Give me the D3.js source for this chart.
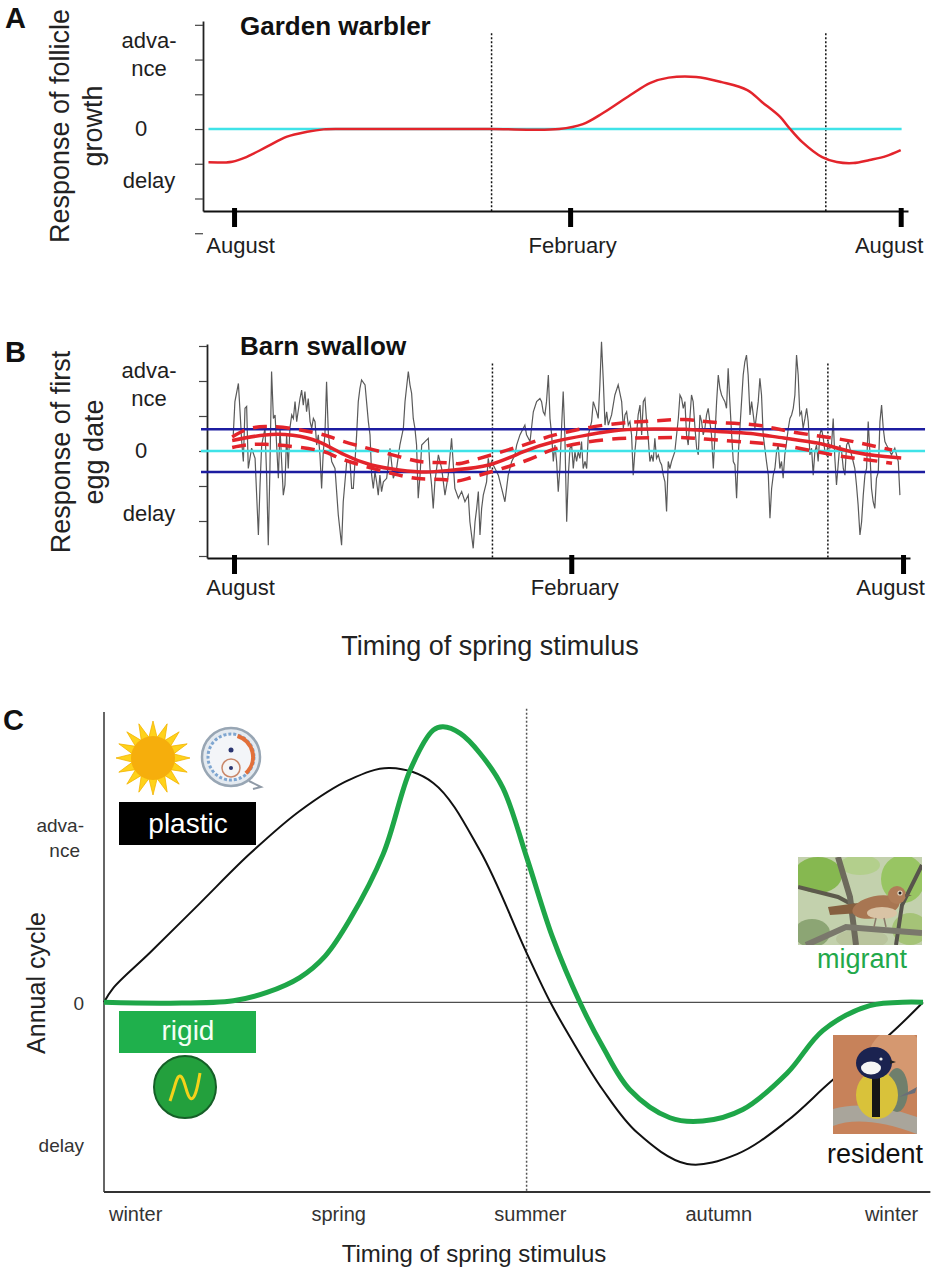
<!DOCTYPE html>
<html>
<head>
<meta charset="utf-8">
<script src="https://cdn.jsdelivr.net/npm/d3@7"></script>
<style>
  body { margin: 0; background: #fff; }
  svg { display: block; font-family: Arial, "Liberation Sans", Helvetica, sans-serif; }
</style>
</head>
<body>
<svg id="canvas"></svg>
<script>
// ---- data (x: days since 1 August, y: response, 10 = one axis tick) ----
const monthTicks = [0, 184, 365];
const monthLabels = ['August', 'February', 'August'];
const respTicks = [-30, -20, -10, 0, 10, 20, 30];
const respLabels = ['adva-|nce', '0', 'delay'];
const warblerLabelAt = [19.6, 0, -15];
const swallowLabelAt = [17, 0, -18];
const stimulusLines = [141, 324];

const warblerCurve = [
  [-14, -9.6], [-1, -9.4], [7, -8.0], [18, -5.1], [29, -2.2], [40, -0.8], [49, -0.1], [60, 0],
  [100, 0], [140, 0], [178, 0], [191, 1.4], [202, 4.6], [217, 9.8], [228, 13.3], [238, 14.8],
  [253, 15.0], [267, 13.5], [281, 11.2], [289, 7.8], [299, 3.5], [304, 0.3], [311, -3.7],
  [322, -8.1], [330, -9.5], [339, -9.8], [348, -8.9], [357, -7.8], [365, -6.1]
];
const warblerZeroSpan = [-14, 365.5];

const swallowRaw = [
  [-0.4, 4.6], [0.5, 14.1], [2.4, 19.3], [3.3, 11.2], [4.2, 2.7], [5.1, -3.0], [6.0, 12.2], [6.9, 12.7],
  [7.8, -5.0], [9.6, 0.8], [11.5, -2.1], [13.3, -24.0], [14.2, -9.7], [15.1, 1.7], [16.9, 6.5], [17.8, -6.9],
  [18.7, -26.9], [19.6, -5.0], [20.5, 22.7], [21.5, 9.3], [22.4, 10.3], [24.2, -7.8], [25.1, 6.5], [26.0, -3.0],
  [26.9, -12.6], [27.8, -9.7], [28.7, 4.6], [29.6, -5.0], [30.5, 6.5], [31.5, 10.3], [32.4, 9.3], [33.3, 14.1],
  [34.2, 8.4], [36.0, 15.0], [36.9, 17.4], [37.8, 13.1], [38.7, 17.0], [39.6, 11.2], [40.5, 15.0], [41.5, 8.4],
  [42.4, 6.5], [43.3, 9.3], [44.2, 8.4], [45.1, 1.7], [46.0, 4.6], [46.9, -1.1], [47.8, -10.7], [48.7, -0.2],
  [49.6, 4.6], [50.5, 19.8], [51.5, 4.6], [53.3, -3.0], [55.1, -5.0], [56.9, -18.3], [58.7, -26.9], [59.6, -14.5],
  [61.5, -3.0], [63.3, -3.0], [64.2, -10.7], [65.1, -10.7], [66.9, 4.6], [67.8, 14.1], [68.7, 17.9], [69.6, 20.3],
  [71.5, 18.9], [73.3, 8.4], [74.2, 4.6], [75.1, -6.9], [76.0, -10.7], [76.9, -5.9], [77.8, -8.8], [78.7, -12.6],
  [79.6, -6.9], [80.5, -11.6], [81.5, -8.8], [83.3, -7.8], [85.1, 0.8], [86.9, -7.8], [88.7, -5.0], [90.5, 1.7],
  [92.4, 6.5], [93.3, 14.1], [95.1, 22.7], [96.0, 18.9], [96.9, 16.5], [97.8, 9.3], [98.7, 6.5], [99.6, 1.7],
  [100.5, -13.5], [101.5, -6.9], [102.4, 1.7], [104.2, 2.7], [106.0, 3.6], [106.9, -5.0], [107.8, -9.7], [108.7, -16.4],
  [109.6, -8.8], [111.5, -1.1], [113.3, -5.0], [115.1, -12.6], [116.9, -6.9], [118.7, 3.6], [120.5, -10.7], [122.4, -13.5],
  [124.2, -11.6], [126.0, -14.5], [127.8, -12.6], [128.7, -20.2], [130.5, -27.8], [131.5, -20.2], [132.4, -16.4], [133.3, -11.6],
  [134.2, -24.0], [135.1, -16.4], [136.0, -12.6], [137.8, -8.8], [138.7, -2.1], [139.6, -5.0], [140.5, -3.0], [142.4, -5.0],
  [144.2, -6.9], [146.0, -10.7], [147.8, -14.5], [149.6, -6.9], [151.5, -3.0], [153.3, -1.1], [154.2, 1.7], [156.0, 4.6],
  [157.8, 6.5], [158.7, 7.4], [159.6, 4.6], [161.5, 2.7], [163.3, 11.2], [165.1, 14.1], [166.9, 15.0], [167.8, 14.1],
  [168.7, 11.2], [169.6, 10.3], [170.5, 14.1], [171.5, 21.7], [172.4, 9.3], [173.3, 4.6], [174.2, -3.0], [175.1, 1.7],
  [176.0, -3.0], [176.9, -11.6], [177.8, -5.0], [178.7, 6.5], [179.6, 17.0], [180.5, 4.6], [181.5, -20.2], [182.4, -6.9],
  [183.3, 0.8], [184.2, 1.7], [185.1, -5.0], [186.0, -0.2], [186.9, -3.0], [187.8, -0.2], [188.7, -2.1], [189.6, 2.7],
  [190.5, -5.0], [191.5, -3.0], [192.4, -5.0], [193.3, 4.6], [195.1, 8.4], [196.0, 14.1], [197.8, 11.2], [198.7, 9.3],
  [199.6, 18.9], [200.5, 31.2], [201.5, 19.8], [202.4, 7.4], [203.3, 11.2], [204.2, 7.4], [206.0, 10.3], [207.8, 16.0],
  [209.6, 18.9], [211.5, 14.1], [212.4, 6.5], [213.3, 10.3], [214.2, 11.2], [215.1, 7.4], [216.0, 8.4], [216.9, 4.6],
  [217.8, -6.9], [218.7, -0.2], [219.6, 4.6], [220.5, 10.3], [221.5, 13.1], [222.4, 4.6], [223.3, 14.1], [224.2, 15.0],
  [225.1, 8.4], [226.0, 3.6], [226.9, -3.0], [227.8, -1.1], [228.7, -3.0], [229.6, 3.6], [230.5, -2.1], [231.5, -1.1],
  [232.4, -3.0], [233.3, -4.0], [234.2, -6.9], [235.1, -8.8], [236.0, -17.3], [236.9, -3.0], [237.8, -5.0], [238.7, -3.0],
  [240.5, -0.2], [242.4, 9.3], [243.3, 16.0], [244.2, 15.0], [245.1, 12.2], [246.0, 14.1], [246.9, 4.6], [247.8, 1.7],
  [248.7, 9.3], [249.6, 16.0], [250.5, 14.1], [251.5, 6.5], [252.4, 0.8], [253.3, -1.1], [254.2, 10.3], [255.1, 8.4],
  [256.0, 4.6], [256.9, 6.5], [257.8, 10.3], [258.7, 12.2], [259.6, 8.4], [260.5, 4.6], [261.5, -5.0], [262.4, 4.6],
  [263.3, 14.1], [264.2, 21.7], [265.1, 17.9], [266.0, 16.0], [266.9, 15.0], [267.8, 14.1], [268.7, 12.2], [269.6, 23.6],
  [270.5, 14.1], [271.5, 4.6], [272.4, -3.0], [273.3, -4.0], [274.2, -13.5], [275.1, -1.1], [276.0, 6.5], [276.9, 14.1],
  [277.8, 21.7], [278.7, 25.5], [279.6, 27.4], [280.5, 21.7], [281.5, 10.3], [282.4, 14.1], [283.3, 10.3], [284.2, 6.5],
  [286.0, 14.1], [286.9, 20.8], [287.8, 16.0], [288.7, 4.6], [289.6, 0.8], [290.5, -3.0], [291.5, -6.9], [292.4, -19.2],
  [293.3, -10.7], [294.2, -6.9], [295.1, -5.0], [296.0, -0.2], [296.9, 1.7], [297.8, -5.0], [298.7, -3.0], [299.6, -7.8],
  [300.5, -1.1], [301.5, 2.7], [302.4, 6.5], [303.3, 9.3], [304.2, 10.3], [305.1, 12.2], [306.0, 16.0], [306.9, 27.4],
  [307.8, 21.7], [308.7, 10.3], [309.6, 11.2], [310.5, 6.5], [311.5, 9.3], [312.4, 12.2], [313.3, 8.4], [314.2, -1.1],
  [315.1, 0.8], [316.0, -6.9], [316.9, -0.2], [317.8, 1.7], [318.7, -3.0], [319.6, 4.6], [320.5, 6.5], [321.5, 3.6],
  [322.4, -0.2], [323.3, -1.1], [324.2, 2.7], [325.1, 0.8], [326.0, 1.7], [326.9, 9.3], [327.8, -2.1], [328.7, -9.7],
  [329.6, -4.0], [330.5, 1.7], [331.5, -0.2], [332.4, -5.0], [333.3, -6.9], [334.2, 1.7], [335.1, 2.7], [336.0, 0.8],
  [336.9, -1.1], [337.8, -3.0], [338.7, -5.0], [339.6, -9.7], [340.5, -15.4], [341.5, -24.0], [342.4, -20.2], [343.3, -12.6],
  [344.2, -6.9], [345.1, -5.0], [346.0, 8.4], [346.9, -0.2], [347.8, -10.7], [348.7, -14.5], [349.6, -16.4], [350.5, -7.8],
  [351.5, -6.0], [352.4, 8.4], [353.3, 13.1], [354.2, 6.5], [355.1, 2.7], [356.0, 1.7], [356.9, 0.8], [358.7, -1.1],
  [360.5, 0.8], [362.4, -3.0], [363.3, -12.6]
];
const swallowFit = [
  [-1, 3.0], [17, 4.6], [32, 4.5], [46, 2.7], [60, -1.0], [75, -4.0], [90, -5.4], [105, -6.0], [120, -5.4],
  [139, -4.0], [158, -0.2], [175, 2.7], [193, 4.6], [211, 6.0], [230, 6.3], [246, 6.2], [264, 5.6], [282, 5.0],
  [300, 3.7], [319, 2.2], [337, -0.2], [355, -1.6], [364, -2.0]
];
const swallowUpper = [
  [-1, 4.0], [17, 7.0], [46, 5.0], [60, 2.7], [90, -1.6], [105, -3.2], [120, -3.5], [128, -3.0], [158, 1.7],
  [175, 4.6], [202, 7.4], [229, 8.6], [246, 9.0], [257, 8.4], [273, 7.9], [288, 7.2], [304, 5.5], [328, 3.6],
  [344, 2.0], [359, 0.3]
];
const swallowLower = [
  [-1, 1.0], [17, 1.9], [46, 0.2], [60, -2.5], [90, -6.9], [105, -8.0], [120, -8.4], [128, -7.8], [158, -3.0],
  [175, 0.6], [202, 3.2], [229, 3.8], [246, 3.8], [257, 3.4], [273, 2.8], [288, 2.2], [304, 1.2], [328, -1.2],
  [344, -2.4], [359, -3.5]
];
const swallowBand = [6.2, -6.0];
const swallowRefSpan = [-18, 377];

// panel C (x: % of annual cycle from winter, y: phase response, 1 = "advance")
const seasons = ['winter', 'spring', 'summer', 'autumn', 'winter'];
const seasonAt = [3.8, 28.6, 52.0, 75.0, 96.1];
const cycleLabels = ['adva-|nce', '0', 'delay'];
const cycleLabelAt = [1, 0, -0.87];
const summerLine = 51.6;
const plasticCurve = [
  [0, 0], [1.1, 0.085], [5.6, 0.30], [11.7, 0.60], [17.8, 0.90], [23.9, 1.16], [30.0, 1.35], [34.9, 1.42],
  [40.2, 1.33], [45.9, 0.92], [51.6, 0.30], [54.5, 0], [56.9, -0.21], [60.9, -0.53], [65.1, -0.79],
  [71.2, -0.98], [77.3, -0.92], [83.4, -0.72], [89.0, -0.47], [95.6, -0.21], [100, 0]
];
const rigidCurve = [
  [0, 0], [8.1, -0.005], [15.8, 0.01], [19.9, 0.06], [23.9, 0.15], [27.0, 0.28], [30.0, 0.50], [34.1, 0.90],
  [37.4, 1.41], [40.2, 1.65], [41.4, 1.67], [43.5, 1.63], [45.9, 1.51], [48.7, 1.30], [51.6, 0.88], [54.8, 0.39],
  [58.1, 0], [60.9, -0.27], [64.2, -0.53], [69.1, -0.70], [73.1, -0.72], [78.0, -0.65], [83.4, -0.43],
  [87.8, -0.17], [93.5, -0.02], [100, 0]
];

// ---- setup ----
let canvas = d3.select('#canvas').attr('width', 950).attr('height', 1277);
const ink = '#1e1e1e';

let xA = d3.scaleLinear().domain([-17, 369]).range([203, 908]);
let yA = d3.scaleLinear().domain([-23.6, 31.1]).range([211, 21]);
let xB = d3.scaleLinear().domain([-14.73, 368.8]).range([207, 910]);
let yB = d3.scaleLinear().domain([-30.57, 30.57]).range([558, 344]);
let xC = d3.scaleLinear().domain([0, 100]).range([104, 923]);
let yC = d3.scaleLinear().domain([-1.15, 1.76]).range([1192, 712]);

let lineOf = (x, y, curve) => d3.line().x((d) => x(d[0])).y((d) => y(d[1])).curve(curve);

let panelLetter = (t, x, y) => {
  canvas.append('text').attr('x', x).attr('y', y).text(t)
    .attr('font-size', 29).attr('font-weight', 'bold').attr('fill', '#111');
};

let drawAxes = (x, y, labelAt, labelNudge) => {
  let yAxisX = x.range()[0];
  let xAxisY = y.range()[0];

  canvas.append('g')
    .attr('transform', `translate(${yAxisX},0)`)
    .call(d3.axisLeft(y).tickValues(respTicks).tickSize(8).tickSizeOuter(0).tickFormat(''))
    .call((g) => g.selectAll('.tick line').attr('stroke', '#444').attr('stroke-width', 1.2))
    .call((g) => g.select('.domain').attr('stroke', '#222').attr('stroke-width', 1.8));

  let gx = canvas.append('g')
    .attr('transform', `translate(0,${xAxisY})`)
    .call(d3.axisBottom(x).tickValues(monthTicks).tickSize(16).tickSizeOuter(0)
      .tickFormat((d, i) => monthLabels[i]));
  gx.select('.domain').attr('stroke', '#111').attr('stroke-width', 2);
  gx.selectAll('.tick line').attr('stroke', '#000').attr('stroke-width', 5).attr('y1', -3);
  gx.selectAll('.tick text')
    .attr('y', labelNudge.y).attr('dy', 0)
    .attr('dx', (d, i) => labelNudge.dx[i])
    .attr('font-size', 22).attr('font-family', 'Arial, "Liberation Sans", sans-serif').attr('fill', ink);

  respLabels.forEach((lab, i) => {
    let yy = y(labelAt[i]);
    let t = canvas.append('text').attr('text-anchor', 'middle').attr('font-size', 22).attr('fill', ink);
    if (lab.includes('|')) {
      let parts = lab.split('|');
      t.append('tspan').attr('x', 149).attr('y', yy - 13).text(parts[0]);
      t.append('tspan').attr('x', 149).attr('y', yy + 15).text(parts[1]);
    } else {
      t.attr('x', lab === '0' ? 141 : 149).attr('y', yy).attr('dy', '0.3em').text(lab);
    }
  });

  stimulusLines.forEach((d) => {
    canvas.append('line')
      .attr('x1', x(d)).attr('x2', x(d))
      .attr('y1', y(labelAt[0] + 8)).attr('y2', xAxisY)
      .attr('stroke', '#111').attr('stroke-width', 1.5).attr('stroke-dasharray', '2,2');
  });
};

let yTitle = (lines, x, cy, size) => {
  let g = canvas.append('g').attr('transform', `translate(${x},${cy}) rotate(-90)`);
  lines.forEach((l, i) => {
    g.append('text').attr('x', 0).attr('y', i * 33).attr('text-anchor', 'middle')
      .attr('font-size', size).attr('fill', '#222').text(l);
  });
};

// ---- panel A: garden warbler ----
panelLetter('A', 5, 28);
drawAxes(xA, yA, warblerLabelAt, { y: 42, dx: [6, 2, -12] });
yTitle(['Response of follicle', 'growth'], 69, 126, 27);
canvas.append('text').attr('x', 240).attr('y', 35).text('Garden warbler')
  .attr('font-size', 26).attr('font-weight', 'bold').attr('fill', '#111');

canvas.append('line')
  .attr('x1', xA(warblerZeroSpan[0])).attr('x2', xA(warblerZeroSpan[1]))
  .attr('y1', yA(0)).attr('y2', yA(0))
  .attr('stroke', '#3fe3e8').attr('stroke-width', 2.5);

canvas.append('path').datum(warblerCurve)
  .attr('d', lineOf(xA, yA, d3.curveCatmullRom.alpha(0.5)))
  .attr('fill', 'none').attr('stroke', '#e3242b').attr('stroke-width', 2.5);

// ---- panel B: barn swallow ----
panelLetter('B', 5, 362);
drawAxes(xB, yB, swallowLabelAt, { y: 37, dx: [6, 3, -13] });
yTitle(['Response of first', 'egg date'], 70, 452, 27);
canvas.append('text').attr('x', 240).attr('y', 355).text('Barn swallow')
  .attr('font-size', 26).attr('font-weight', 'bold').attr('fill', '#111');

canvas.append('path').datum(swallowRaw)
  .attr('d', lineOf(xB, yB, d3.curveLinear))
  .attr('fill', 'none').attr('stroke', '#5a5a5a').attr('stroke-width', 1.2);

canvas.append('line')
  .attr('x1', xB(swallowRefSpan[0])).attr('x2', xB(swallowRefSpan[1]))
  .attr('y1', yB(0)).attr('y2', yB(0))
  .attr('stroke', '#3fe3e8').attr('stroke-width', 2.5);

canvas.selectAll('.band').data(swallowBand).enter().append('line')
  .attr('class', 'band')
  .attr('x1', xB(swallowRefSpan[0])).attr('x2', xB(swallowRefSpan[1]))
  .attr('y1', (d) => yB(d)).attr('y2', (d) => yB(d))
  .attr('stroke', '#1c1ca0').attr('stroke-width', 2.5);

[swallowUpper, swallowLower].forEach((s) => {
  canvas.append('path').datum(s)
    .attr('d', lineOf(xB, yB, d3.curveNatural))
    .attr('fill', 'none').attr('stroke', '#e3242b').attr('stroke-width', 3.5)
    .attr('stroke-dasharray', '14,9');
});
canvas.append('path').datum(swallowFit)
  .attr('d', lineOf(xB, yB, d3.curveNatural))
  .attr('fill', 'none').attr('stroke', '#e3242b').attr('stroke-width', 3.5);

canvas.append('text').attr('x', 490).attr('y', 655).attr('text-anchor', 'middle')
  .attr('font-size', 27).attr('fill', '#222').text('Timing of spring stimulus');

// ---- panel C: annual cycle ----
panelLetter('C', 3, 730);
canvas.append('line').attr('x1', xC(0)).attr('x2', xC(0)).attr('y1', yC(1.76)).attr('y2', yC(-1.15))
  .attr('stroke', '#666').attr('stroke-width', 2);
canvas.append('line').attr('x1', xC(0)).attr('x2', xC(100.9)).attr('y1', yC(-1.15)).attr('y2', yC(-1.15))
  .attr('stroke', '#333').attr('stroke-width', 2);
canvas.append('line').attr('x1', xC(0)).attr('x2', xC(100)).attr('y1', yC(0)).attr('y2', yC(0))
  .attr('stroke', '#222').attr('stroke-width', 1);
canvas.append('line').attr('x1', xC(summerLine)).attr('x2', xC(summerLine))
  .attr('y1', yC(1.78)).attr('y2', yC(-1.15))
  .attr('stroke', '#555').attr('stroke-width', 1.5).attr('stroke-dasharray', '2,2');

canvas.append('g')
  .attr('transform', `translate(0,${yC(-1.15)})`)
  .call(d3.axisBottom(xC).tickValues(seasonAt).tickSize(0).tickFormat((d, i) => seasons[i]))
  .call((g) => g.select('.domain').remove())
  .call((g) => g.selectAll('text').attr('y', 29).attr('dy', 0).attr('font-size', 20)
    .attr('font-family', 'Arial, "Liberation Sans", sans-serif').attr('fill', '#333'));

cycleLabels.forEach((lab, i) => {
  let yy = yC(cycleLabelAt[i]);
  let t = canvas.append('text').attr('text-anchor', 'end').attr('font-size', 19).attr('fill', '#333');
  if (lab.includes('|')) {
    let parts = lab.split('|');
    t.append('tspan').attr('x', 84).attr('y', yy - 5).text(parts[0]);
    t.append('tspan').attr('x', 80).attr('y', yy + 20).text(parts[1]);
  } else {
    t.attr('x', 84).attr('y', yy).attr('dy', lab === '0' ? '0.4em' : '0.35em').text(lab);
  }
});

let gt = canvas.append('g').attr('transform', 'translate(45,983) rotate(-90)');
gt.append('text').attr('text-anchor', 'middle').attr('font-size', 25).attr('fill', '#222').text('Annual cycle');

canvas.append('text').attr('x', 474).attr('y', 1262).attr('text-anchor', 'middle')
  .attr('font-size', 24).attr('fill', '#222').text('Timing of spring stimulus');

canvas.append('path').datum(plasticCurve)
  .attr('d', lineOf(xC, yC, d3.curveCatmullRom.alpha(0.5)))
  .attr('fill', 'none').attr('stroke', '#111').attr('stroke-width', 2);
canvas.append('path').datum(rigidCurve)
  .attr('d', lineOf(xC, yC, d3.curveCatmullRom.alpha(0.5)))
  .attr('fill', 'none').attr('stroke', '#1ea648').attr('stroke-width', 5);

// ---- icons ----
// sun
let sun = canvas.append('g').attr('transform', 'translate(153,758)');
let rays = d3.range(32).map((i) => [i * Math.PI / 16, i % 2 === 0 ? 37 : 21]);
sun.append('path').attr('d', d3.lineRadial().curve(d3.curveLinearClosed)(rays))
  .attr('fill', '#ffd21a').attr('stroke', '#f2b400').attr('stroke-width', 0.8);
sun.append('circle').attr('r', 22).attr('fill', '#f6ae0c');

// hygrometer dial
let dial = canvas.append('g').attr('transform', 'translate(231,757)');
dial.append('circle').attr('r', 29).attr('fill', '#e4eaf0').attr('stroke', '#98a6b4').attr('stroke-width', 2.5);
dial.append('circle').attr('r', 23).attr('fill', '#f3f5f8').attr('stroke', '#7fa6d0').attr('stroke-width', 3)
  .attr('stroke-dasharray', '3,2');
dial.append('path').attr('d', d3.arc().innerRadius(20).outerRadius(24).startAngle(0.3).endAngle(2.4)())
  .attr('fill', '#e2703a');
dial.append('circle').attr('cy', 11).attr('r', 9).attr('fill', '#f5f5f5').attr('stroke', '#c9886a').attr('stroke-width', 1.5);
dial.append('circle').attr('cy', -7).attr('r', 2.5).attr('fill', '#2a3570');
dial.append('circle').attr('cy', 11).attr('r', 2).attr('fill', '#2a3570');
dial.append('path').attr('d', 'M18,24 L30,30 L22,32').attr('fill', 'none').attr('stroke', '#8f9aa6').attr('stroke-width', 2);

// plastic / rigid boxes
canvas.append('rect').attr('x', 119).attr('y', 802).attr('width', 137).attr('height', 43).attr('fill', '#000');
canvas.append('text').attr('x', 188).attr('y', 833).attr('text-anchor', 'middle')
  .attr('font-size', 28).attr('fill', '#fff').text('plastic');
canvas.append('rect').attr('x', 119).attr('y', 1011).attr('width', 137).attr('height', 42).attr('fill', '#1fb04c');
canvas.append('text').attr('x', 188).attr('y', 1040).attr('text-anchor', 'middle')
  .attr('font-size', 28).attr('fill', '#f4fff4').text('rigid');

// green clock with sine
let clock = canvas.append('g').attr('transform', 'translate(185,1087)');
clock.append('circle').attr('r', 31).attr('fill', '#23a03d').attr('stroke', '#155f27').attr('stroke-width', 2);
clock.append('path')
  .attr('d', d3.line().curve(d3.curveBasis)([[-15, 14], [-11, 2], [-7, -13], [-2, -10], [2, 6], [6, 14], [11, 8], [15, -14]]))
  .attr('fill', 'none').attr('stroke', '#f3d21a').attr('stroke-width', 3);

// migrant photo (garden warbler)
let defs = canvas.append('defs');
defs.append('clipPath').attr('id', 'clipM').append('rect').attr('width', 124).attr('height', 88);
defs.append('clipPath').attr('id', 'clipR').append('rect').attr('width', 84).attr('height', 99);

let mig = canvas.append('g').attr('transform', 'translate(798,857)').append('g').attr('clip-path', 'url(#clipM)');
mig.append('rect').attr('width', 124).attr('height', 88).attr('fill', '#c3d1ad');
[[20, 18, 24, 18, '#86b850'], [105, 22, 22, 24, '#98c563'], [62, 8, 20, 10, '#b3cf8c'],
 [112, 72, 18, 16, '#a5c377'], [14, 76, 18, 14, '#8ca574'], [64, 82, 26, 10, '#b9c49d']].forEach((e) => {
  mig.append('ellipse').attr('cx', e[0]).attr('cy', e[1]).attr('rx', e[2]).attr('ry', e[3]).attr('fill', e[4]);
});
mig.append('path').attr('d', 'M0,30 L40,40 L70,56').attr('fill', 'none').attr('stroke', '#5d5a4c').attr('stroke-width', 4);
mig.append('path').attr('d', 'M40,0 L52,40 L58,88').attr('fill', 'none').attr('stroke', '#6d6a5c').attr('stroke-width', 6);
mig.append('path').attr('d', 'M124,8 L104,48 L98,88').attr('fill', 'none').attr('stroke', '#57544c').attr('stroke-width', 4);
mig.append('path').attr('d', 'M8,88 L48,70 L124,76').attr('fill', 'none').attr('stroke', '#7a786c').attr('stroke-width', 6);
mig.append('path').attr('d', 'M30,50 L60,46 L62,56 L32,58 Z').attr('fill', '#86603f');
mig.append('ellipse').attr('cx', 78).attr('cy', 50).attr('rx', 24).attr('ry', 11)
  .attr('transform', 'rotate(-12,78,50)').attr('fill', '#a87652');
mig.append('ellipse').attr('cx', 84).attr('cy', 56).attr('rx', 15).attr('ry', 6).attr('fill', '#d9c3a5');
mig.append('circle').attr('cx', 99).attr('cy', 38).attr('r', 9).attr('fill', '#b07d58');
mig.append('circle').attr('cx', 102).attr('cy', 36).attr('r', 2.6).attr('fill', '#e9dcc8');
mig.append('circle').attr('cx', 102).attr('cy', 36).attr('r', 1.5).attr('fill', '#222');
mig.append('path').attr('d', 'M107,37 L114,38.5 L107,40 Z').attr('fill', '#6b5a4a');
mig.append('path').attr('d', 'M78,61 L76,70 M86,61 L88,70').attr('stroke', '#8a7a6a').attr('stroke-width', 1.5);

canvas.append('text').attr('x', 862).attr('y', 968).attr('text-anchor', 'middle')
  .attr('font-size', 27).attr('fill', '#22a84a').text('migrant');

// resident photo (great tit)
let res = canvas.append('g').attr('transform', 'translate(833,1035)').append('g').attr('clip-path', 'url(#clipR)');
res.append('rect').attr('width', 84).attr('height', 99).attr('fill', '#c7825a');
res.append('ellipse').attr('cx', 64).attr('cy', 28).attr('rx', 30).attr('ry', 34).attr('fill', '#d59870');
res.append('path').attr('d', 'M-4,84 Q30,70 88,92').attr('fill', 'none').attr('stroke', '#a9a59b').attr('stroke-width', 16);
res.append('ellipse').attr('cx', 64).attr('cy', 55).attr('rx', 11).attr('ry', 22).attr('fill', '#6f7f6c');
res.append('path').attr('d', 'M66,62 L84,52 L82,58 Z').attr('fill', '#6a6e78');
res.append('ellipse').attr('cx', 44).attr('cy', 60).attr('rx', 21).attr('ry', 24).attr('fill', '#d9c23a');
res.append('rect').attr('x', 39).attr('y', 42).attr('width', 8).attr('height', 40).attr('fill', '#161616');
res.append('ellipse').attr('cx', 41).attr('cy', 28).attr('rx', 18).attr('ry', 16).attr('fill', '#1b2350');
res.append('ellipse').attr('cx', 38).attr('cy', 33).attr('rx', 10).attr('ry', 6.5).attr('fill', '#f6f6f6');
res.append('circle').attr('cx', 48).attr('cy', 24).attr('r', 1.6).attr('fill', '#eee');
res.append('path').attr('d', 'M57,25 L63,27 L57,29 Z').attr('fill', '#222');

canvas.append('text').attr('x', 875).attr('y', 1163).attr('text-anchor', 'middle')
  .attr('font-size', 27).attr('fill', '#111').text('resident');
</script>
</body>
</html>
